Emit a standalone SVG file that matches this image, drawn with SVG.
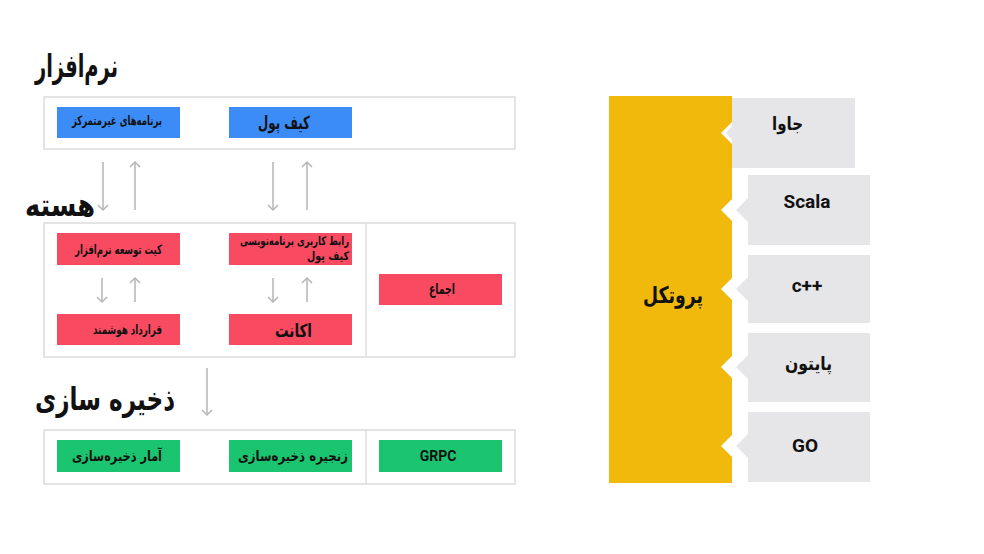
<svg xmlns="http://www.w3.org/2000/svg" width="984" height="554" viewBox="0 0 984 554">
<style>
.fa{font-family:"DejaVu Sans",sans-serif;font-weight:bold;fill:#111}
.la{font-family:Roboto,"Liberation Sans",sans-serif;font-weight:bold;fill:#111}
.frame{fill:none;stroke:#dcdcdc;stroke-width:1.5}
.blue{fill:#3b8cf7}
.red{fill:#f84a60}
.green{fill:#1bc46f}
.gray{fill:#e6e6e9}
.arr{stroke:#b5b5b5;stroke-width:1.5;fill:none;marker-end:url(#ah)}
</style>
<defs>
<marker id="ah" viewBox="0 0 12 12" refX="6" refY="6" markerWidth="12" markerHeight="12" markerUnits="userSpaceOnUse" orient="auto">
<path d="M1,1 L6,6 L1,11" fill="none" stroke="#b5b5b5" stroke-width="1.5"/>
</marker>
</defs>
<rect width="984" height="554" fill="#fff"/>

<g id="titles">
<text class="fa" x="35" y="77" font-size="32" textLength="83" lengthAdjust="spacingAndGlyphs">نرم‌افزار</text>
<text class="fa" x="25" y="216" font-size="32" textLength="70" lengthAdjust="spacingAndGlyphs">هسته</text>
<text class="fa" x="35" y="410" font-size="32" textLength="140" lengthAdjust="spacingAndGlyphs">ذخیره سازی</text>
</g>

<g id="frames">
<rect class="frame" x="44" y="97" width="471" height="52"/>
<rect class="frame" x="44" y="223" width="471" height="134"/>
<line class="frame" x1="366" y1="223" x2="366" y2="357"/>
<rect class="frame" x="44" y="430" width="471" height="54"/>
<line class="frame" x1="366" y1="430" x2="366" y2="484"/>
</g>

<g id="node-dapps">
<rect class="blue" x="57" y="107" width="123" height="31"/>
<text class="fa" x="72" y="125" font-size="13" textLength="90" lengthAdjust="spacingAndGlyphs">برنامه‌های غیرمتمرکز</text>
</g>
<g id="node-wallet">
<rect class="blue" x="229" y="107" width="123" height="31"/>
<text class="fa" x="258" y="129" font-size="18" textLength="52" lengthAdjust="spacingAndGlyphs">کیف پول</text>
</g>

<g id="node-sdk">
<rect class="red" x="57" y="233" width="123" height="32"/>
<text class="fa" x="75" y="254" font-size="13" textLength="87" lengthAdjust="spacingAndGlyphs">کیت توسعه نرم‌افزار</text>
</g>
<g id="node-wallet-api">
<rect class="red" x="229" y="233" width="123" height="32"/>
<text class="fa" x="240" y="245" font-size="12" textLength="109" lengthAdjust="spacingAndGlyphs">رابط کاربری برنامه‌نویسی</text>
<text class="fa" x="307" y="260" font-size="12" textLength="42" lengthAdjust="spacingAndGlyphs">کیف پول</text>
</g>
<g id="node-contract">
<rect class="red" x="57" y="314" width="123" height="31"/>
<text class="fa" x="93" y="334" font-size="13" textLength="69" lengthAdjust="spacingAndGlyphs">قرارداد هوشمند</text>
</g>
<g id="node-account">
<rect class="red" x="229" y="314" width="123" height="31"/>
<text class="fa" x="275" y="337" font-size="18" textLength="37" lengthAdjust="spacingAndGlyphs">اکانت</text>
</g>
<g id="node-consensus">
<rect class="red" x="379" y="274" width="123" height="31"/>
<text class="fa" x="429" y="294" font-size="15" textLength="26" lengthAdjust="spacingAndGlyphs">اجماع</text>
</g>

<g id="node-storage-stats">
<rect class="green" x="57" y="440" width="123" height="32"/>
<text class="fa" x="72" y="461" font-size="14" textLength="90" lengthAdjust="spacingAndGlyphs">آمار ذخیره‌سازی</text>
</g>
<g id="node-storage-chain">
<rect class="green" x="229" y="440" width="123" height="32"/>
<text class="fa" x="238" y="461" font-size="14" textLength="110" lengthAdjust="spacingAndGlyphs">زنجیره ذخیره‌سازی</text>
</g>
<g id="node-grpc">
<rect class="green" x="379" y="440" width="123" height="32"/>
<text class="la" x="438" y="461" font-size="14" text-anchor="middle">GRPC</text>
</g>

<g id="connectors">
<line class="arr" x1="103" y1="162" x2="103" y2="210"/>
<line class="arr" x1="135" y1="210" x2="135" y2="162"/>
<line class="arr" x1="273" y1="162" x2="273" y2="210"/>
<line class="arr" x1="307" y1="210" x2="307" y2="162"/>
<line class="arr" x1="102" y1="278" x2="102" y2="302"/>
<line class="arr" x1="135" y1="302" x2="135" y2="278"/>
<line class="arr" x1="273" y1="278" x2="273" y2="302"/>
<line class="arr" x1="307" y1="302" x2="307" y2="278"/>
<line class="arr" x1="207" y1="368" x2="207" y2="415"/>
</g>

<g id="node-protocol">
<rect x="609" y="96" width="123" height="387" fill="#f0b90b"/>
<g fill="#fff">
<polygon points="721,133 733,121 733,145"/>
<polygon points="721,210 733,198 733,222"/>
<polygon points="721,289 733,277 733,301"/>
<polygon points="721,367 733,355 733,379"/>
<polygon points="721,446 733,434 733,458"/>
</g>
<text class="fa" x="643" y="303" font-size="23" textLength="60" lengthAdjust="spacingAndGlyphs">پروتکل</text>
</g>

<g id="node-java">
<polygon class="gray" points="732,98 855,98 855,168 732,168 732,140 726,133 732,126"/>
<text class="fa" x="772" y="130" font-size="19" textLength="31" lengthAdjust="spacingAndGlyphs">جاوا</text>
</g>
<g id="node-scala">
<polygon class="gray" points="748,175 870,175 870,245 748,245 748,222 736,210 748,198"/>
<text class="la" x="807" y="208" font-size="19" text-anchor="middle">Scala</text>
</g>
<g id="node-cpp">
<polygon class="gray" points="748,255 870,255 870,323 748,323 748,301 736,289 748,277"/>
<text class="la" x="807" y="292" font-size="19" text-anchor="middle">c++</text>
</g>
<g id="node-python">
<polygon class="gray" points="748,333 870,333 870,402 748,402 748,379 736,367 748,355"/>
<text class="fa" x="785" y="370" font-size="19" textLength="47" lengthAdjust="spacingAndGlyphs">پایتون</text>
</g>
<g id="node-go">
<polygon class="gray" points="748,412 870,412 870,482 748,482 748,458 736,446 748,434"/>
<text class="la" x="805" y="452" font-size="19" text-anchor="middle">GO</text>
</g>
</svg>
